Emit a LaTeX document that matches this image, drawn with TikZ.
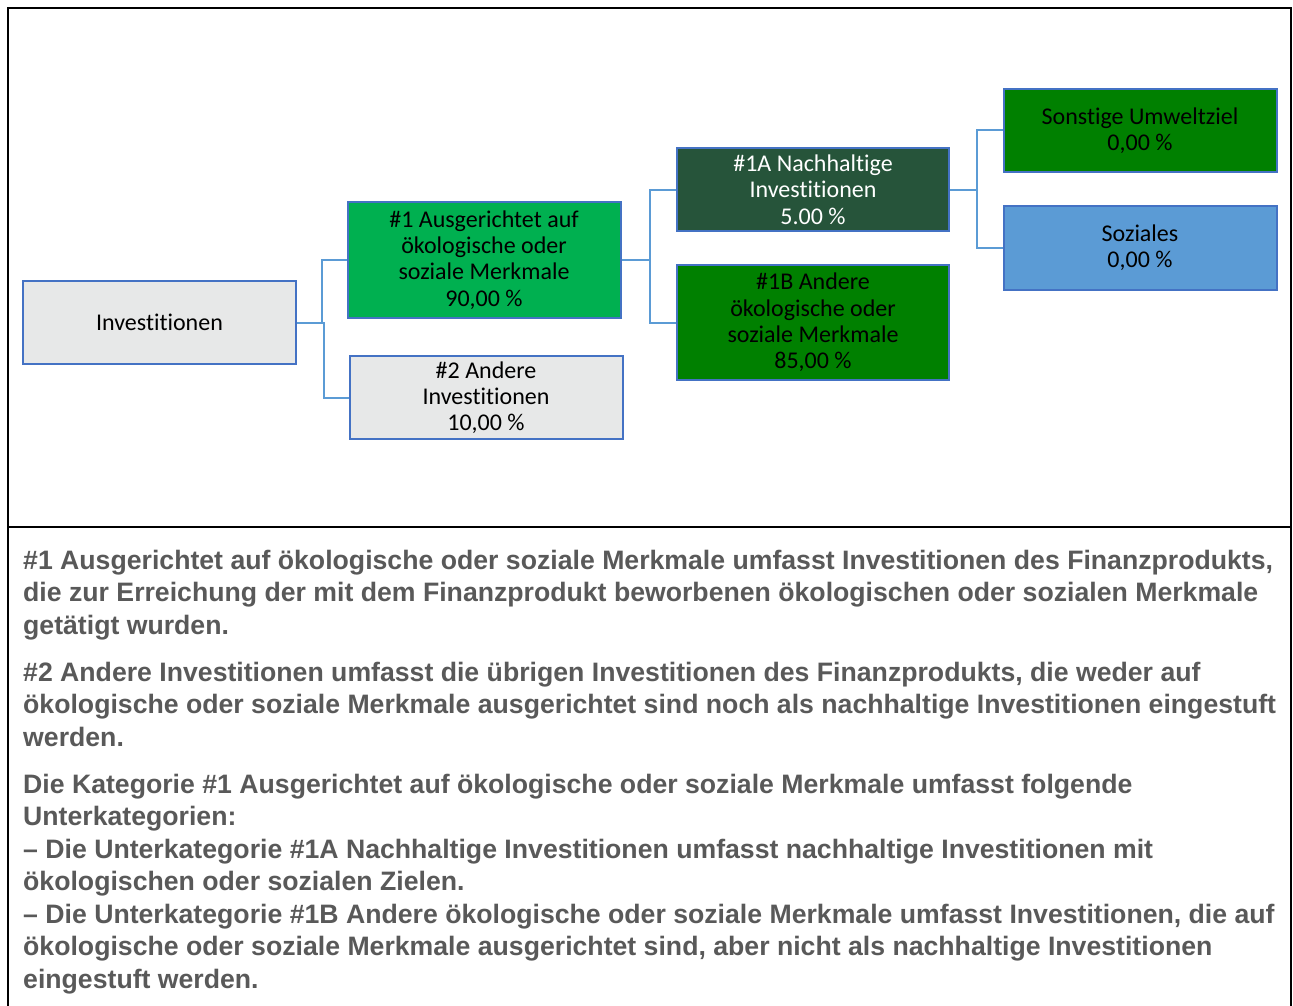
\documentclass[tikz,border=0pt]{standalone}
\usepackage{fontspec}
\usepackage{xcolor}
\setmainfont[Ligatures=NoCommon]{Carlito}
\newfontfamily\notefont{Liberation Sans}
\usetikzlibrary{positioning}

\definecolor{boxblue}{HTML}{4472C4}
\definecolor{linkblue}{HTML}{5B9BD5}
\definecolor{palegray}{HTML}{E7E8E8}
\definecolor{brightgreen}{HTML}{00B050}
\definecolor{darkgreen}{HTML}{26543A}
\definecolor{plaingreen}{HTML}{008000}
\definecolor{socialblue}{HTML}{5B9BD5}
\definecolor{notegray}{HTML}{595959}

\tikzset{
  catbox/.style={draw=boxblue, line width=2pt, minimum width=273pt, minimum height=83pt,
    align=center, inner sep=2pt, font=\fontsize{24}{26.3}\selectfont},
  link/.style={draw=linkblue, line width=2pt},
  note/.style={anchor=base west, align=left, inner sep=0pt, text=notegray,
    font=\notefont\bfseries\fontsize{26.65}{32.5}\selectfont}
}

\begin{document}
\begin{tikzpicture}[x=1pt, y=-1pt]
\useasboundingbox (0,0) rectangle (1293,1006);
% frame
\draw[line width=2.5pt] (8,1006) -- (8,8) -- (1291,8) -- (1291,1006);
\draw[line width=2.5pt] (8,527) -- (1291,527);
% boxes
\node[catbox, fill=palegray] (inv) at (159.5,322.5) {Investitionen};
\node[catbox, fill=brightgreen, minimum height=116pt] (one) at (484,260) {\#1 Ausgerichtet auf\\ökologische oder\\soziale Merkmale\\90,00 \%};
\node[catbox, fill=palegray] (two) at (486,397.5) {\#2 Andere\\Investitionen\\10,00 \%};
\node[catbox, fill=darkgreen, text=white, minimum width=272pt] (oneA) at (813,189.5) {\#1A Nachhaltige\\Investitionen\\5.00 \%};
\node[catbox, fill=plaingreen, minimum width=272pt, minimum height=115pt] (oneB) at (813,322.5) {\#1B Andere\\ökologische oder\\soziale Merkmale\\85,00 \%};
\node[catbox, fill=plaingreen] (other) at (1140,130.5) {Sonstige Umweltziel\\0,00 \%};
\node[catbox, fill=socialblue, minimum height=84pt] (social) at (1140,248) {Soziales\\0,00 \%};
% links
\draw[link] (inv.east) -- ++(25,0) |- (one.west);
\draw[link] (inv.east) -- ++(27,0) |- (two.west);
\draw[link] (one.east) -- ++(28,0) |- (oneA.west);
\draw[link] (one.east) -- ++(28,0) |- (oneB.west);
\draw[link] (oneA.east) -- ++(27,0) |- (other.west);
\draw[link] (oneA.east) -- ++(27,0) |- (social.west);
% notes (anchored on the last line)
\node[note] (notea) at (23,634) {\#1 Ausgerichtet auf ökologische oder soziale Merkmale umfasst Investitionen des Finanzprodukts,\\die zur Erreichung der mit dem Finanzprodukt beworbenen ökologischen oder sozialen Merkmale\\getätigt wurden.};
\node[note] (noteb) at (23,746) {\#2 Andere Investitionen umfasst die übrigen Investitionen des Finanzprodukts, die weder auf\\ökologische oder soziale Merkmale ausgerichtet sind noch als nachhaltige Investitionen eingestuft\\werden.};
\node[note] (notec) at (23,988) {Die Kategorie \#1 Ausgerichtet auf ökologische oder soziale Merkmale umfasst folgende\\Unterkategorien:\\– Die Unterkategorie \#1A Nachhaltige Investitionen umfasst nachhaltige Investitionen mit\\ökologischen oder sozialen Zielen.\\– Die Unterkategorie \#1B Andere ökologische oder soziale Merkmale umfasst Investitionen, die auf\\ökologische oder soziale Merkmale ausgerichtet sind, aber nicht als nachhaltige Investitionen\\eingestuft werden.};
\end{tikzpicture}
\end{document}
